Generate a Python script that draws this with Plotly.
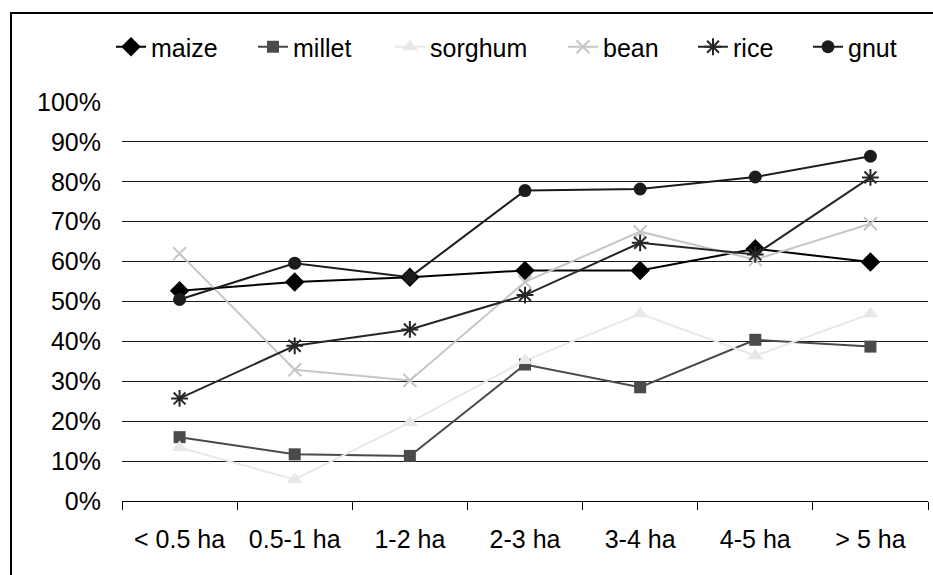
import plotly.graph_objects as go

categories = ["< 0.5 ha", "0.5-1 ha", "1-2 ha", "2-3 ha", "3-4 ha", "4-5 ha", "> 5 ha"]
maize = [0.527, 0.549, 0.561, 0.578, 0.578, 0.632, 0.599]
millet = [0.160, 0.117, 0.113, 0.342, 0.285, 0.404, 0.387]
sorghum = [0.134, 0.054, 0.197, 0.352, 0.469, 0.364, 0.469]
bean = [0.620, 0.329, 0.302, 0.549, 0.675, 0.605, 0.695]
rice = [0.257, 0.389, 0.430, 0.516, 0.647, 0.618, 0.811]
gnut = [0.505, 0.596, 0.561, 0.778, 0.782, 0.812, 0.864]

series = [
    ("maize", maize, "#000000", "diamond", 15),
    ("millet", millet, "#4a4a4a", "square", 12),
    ("sorghum", sorghum, "#e8e8e8", "triangle-up", 14),
    ("bean", bean, "#c6c6c6", "x-thin-open", 13),
    ("rice", rice, "#262626", "asterisk-open", 14),
    ("gnut", gnut, "#1c1c1c", "circle", 13),
]
# legend text start positions (px) in the reference
legend_px = [151, 293, 430, 603, 733, 848]

L, R, T, B = 122, 5, 102, 74
W, H = 933, 575
pw = W - L - R
ph = H - T - B

fig = go.Figure()
layout_legends = {}
for i, (name, vals, col, sym, sz) in enumerate(series):
    lname = "legend" if i == 0 else f"legend{i+1}"
    fig.add_trace(go.Scatter(
        x=categories, y=vals, name=name, mode="lines+markers",
        line=dict(color=col, width=2),
        marker=dict(symbol=sym, size=sz, color=col,
                    line=dict(color=col, width=2 if "open" in sym else 0)),
        legend=lname,
    ))
    layout_legends[lname] = dict(
        x=(legend_px[i] - 40 - L) / pw, xanchor="left",
        y=(T + ph - 47) / ph, yanchor="middle",
        orientation="h", bgcolor="rgba(0,0,0,0)",
        font=dict(size=25, color="#000000"),
        borderwidth=0, tracegroupgap=0,
    )

fig.update_layout(
    width=W, height=H,
    margin=dict(l=L, r=R, t=T, b=B),
    paper_bgcolor="white", plot_bgcolor="white",
    font=dict(family="Liberation Sans, Arial, sans-serif", size=25, color="#000000"),
    showlegend=True,
    **layout_legends,
)
fig.update_xaxes(
    type="category", showgrid=False, showline=True, linecolor="#000000", linewidth=1,
    ticks="outside", tickson="boundaries", ticklen=8, tickcolor="#000000",
    range=[-0.5, 6.5], tickfont=dict(size=25), ticklabelstandoff=16,
)
fig.update_yaxes(
    range=[0, 1], dtick=0.1, tickformat=".0%", showgrid=True,
    gridcolor="#1a1a1a", gridwidth=1, zeroline=False, showline=False,
    ticks="", tickfont=dict(size=25), ticklabelstandoff=20,
)
fig.add_shape(
    type="rect", xref="paper", yref="paper",
    x0=(11 - L) / pw, x1=(980 - L) / pw,
    y0=-(620 - (T + ph)) / ph, y1=(T + ph - 13) / ph,
    line=dict(color="#000000", width=2), fillcolor="rgba(0,0,0,0)", layer="below",
)
fig.write_html("out.html")
